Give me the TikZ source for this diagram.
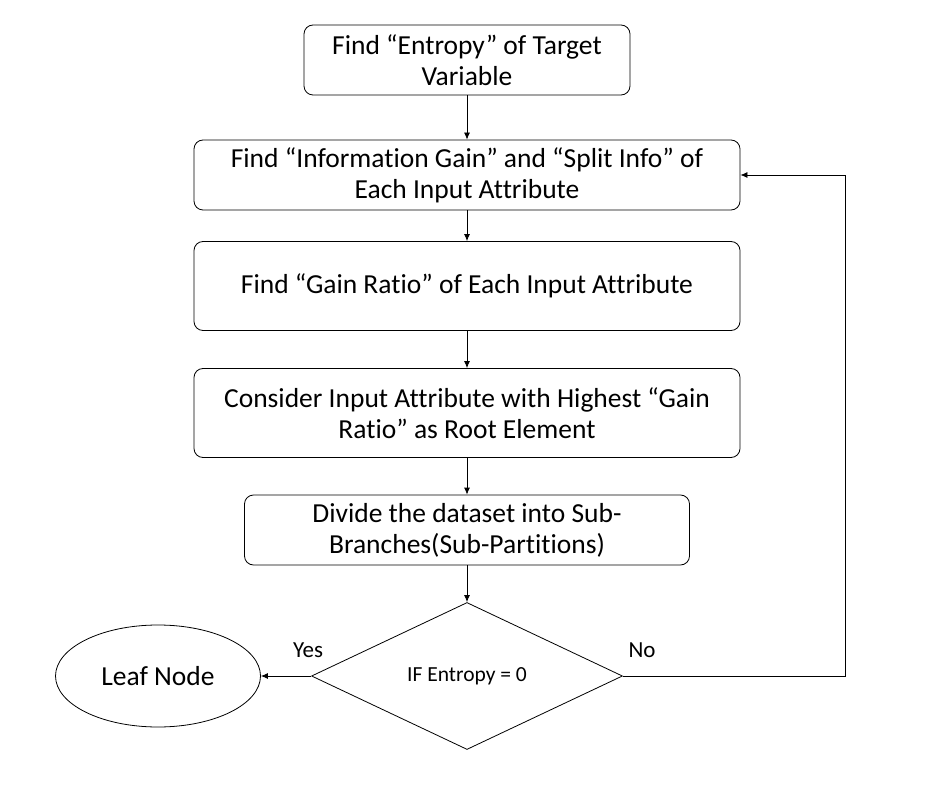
\documentclass[tikz,border=0pt]{standalone}
\usepackage{fontspec}
\setmainfont{Carlito}[Ligatures=NoCommon]
\usetikzlibrary{arrows.meta,shapes.geometric}

\begin{document}
\begin{tikzpicture}[x=1pt, y=-1pt, line width=0.8pt,
    stepbox/.style={draw, rounded corners=9pt, align=center, inner sep=0pt,
      font=\fontsize{27.5}{31}\selectfont},
    flow/.style={-{Latex[length=7pt,width=6pt]}}]
      \useasboundingbox (0,0) rectangle (931,791);

      % Process boxes
      \node[stepbox, minimum width=326, minimum height=70] (entropy) at (467,60)
        {Find “Entropy” of Target\\Variable};
      \node[stepbox, minimum width=546, minimum height=70] (gain) at (467,175)
        {Find “Information Gain” and “Split Info” of\\Each Input Attribute};
      \node[stepbox, minimum width=546, minimum height=89] (ratio) at (467,286)
        {Find “Gain Ratio” of Each Input Attribute};
      \node[stepbox, minimum width=546, minimum height=89] (root) at (467,413)
        {Consider Input Attribute with Highest “Gain\\Ratio” as Root Element};
      \node[stepbox, minimum width=445, minimum height=70] (divide) at (467,530)
        {Divide the dataset into Sub-\\Branches(Sub-Partitions)};

      % Decision and leaf
      \node[draw, diamond, inner sep=0pt, minimum width=311, minimum height=147,
        font=\fontsize{21.5}{25}\selectfont] (test) at (467,676) {IF Entropy = 0};
      \node[draw, ellipse, inner sep=0pt, minimum width=205, minimum height=102,
        font=\fontsize{27.5}{31}\selectfont] (leaf) at (158,676) {Leaf Node};

      % Corner of the loop back
      \coordinate (turn) at (845,676);

      % Connectors
      \draw[flow] (entropy) -- (gain);
      \draw[flow] (gain) -- (ratio);
      \draw[flow] (ratio) -- (root);
      \draw[flow] (root) -- (divide);
      \draw[flow] (divide) -- (test);
      \draw[flow] (test.west) -- (leaf.east);
      \draw[flow] (test.east) -- (turn) |- (gain.east);

      % Branch labels
      \node[font=\fontsize{23}{27}\selectfont] (yes) at (308,650) {Yes};
      \node[font=\fontsize{23}{27}\selectfont] (no) at (642,650) {No};

    \end{tikzpicture}
\end{document}
